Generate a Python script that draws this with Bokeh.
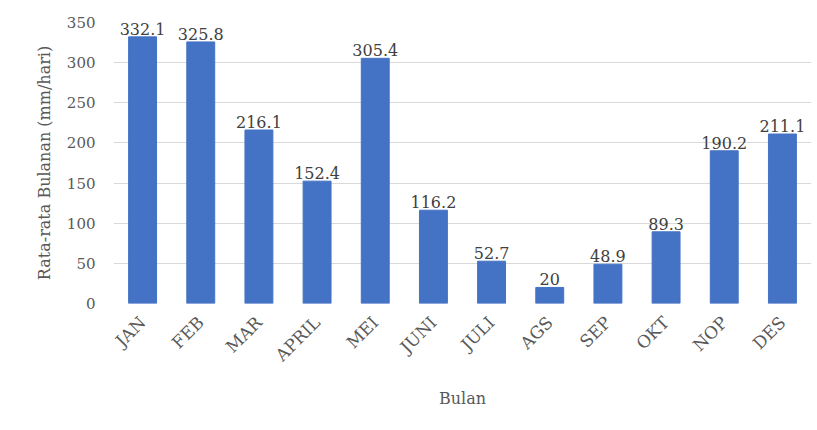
import math
from bokeh.plotting import figure
from bokeh.models import ColumnDataSource, LabelSet, Range1d, FixedTicker
from bokeh.core.properties import value
from bokeh.embed import file_html
from bokeh.resources import INLINE

months = ["JAN", "FEB", "MAR", "APRIL", "MEI", "JUNI", "JULI", "AGS", "SEP", "OKT", "NOP", "DES"]
values = [332.1, 325.8, 216.1, 152.4, 305.4, 116.2, 52.7, 20, 48.9, 89.3, 190.2, 211.1]
labels = ["332.1", "325.8", "216.1", "152.4", "305.4", "116.2", "52.7", "20", "48.9", "89.3", "190.2", "211.1"]
y_ticks = [0, 50, 100, 150, 200, 250, 300, 350]

FONT = "DejaVu Serif"

src = ColumnDataSource(dict(x=months, top=values, label=labels))

p = figure(x_range=months, y_range=Range1d(0, 350), width=817, height=430,
           output_backend="svg", toolbar_location=None,
           min_border_left=113, min_border_right=6, min_border_top=22, min_border_bottom=127)

p.vbar(x="x", top="top", width=0.48, source=src, color="#4472C4")

lbl = LabelSet(x="x", y="top", text="label", source=src, text_align="center",
               text_baseline="bottom", y_offset=2, text_font=value(FONT),
               text_font_size=value("16px"), text_color=value("#404040"))
p.add_layout(lbl)

p.outline_line_color = None
p.xgrid.grid_line_color = None
p.ygrid.grid_line_color = "#d9d9d9"
p.ygrid.grid_line_width = 1
p.yaxis.ticker = FixedTicker(ticks=y_ticks)

for ax in (p.xaxis[0], p.yaxis[0]):
    ax.axis_line_color = None
    ax.major_tick_line_color = None
    ax.minor_tick_line_color = None
    ax.major_label_text_font = FONT
    ax.major_label_text_color = "#595959"
    ax.axis_label_text_font = FONT
    ax.axis_label_text_font_size = "16px"
    ax.axis_label_text_color = "#595959"
    ax.axis_label_text_font_style = "normal"

p.xaxis.major_label_text_font_size = "17px"
p.yaxis.major_label_text_font_size = "15px"
p.xaxis.axis_label = "Bulan"
p.yaxis.axis_label = "Rata-rata Bulanan (mm/hari)"
p.xaxis.major_label_orientation = math.pi / 4
p.xaxis.major_label_standoff = 10
p.yaxis.major_label_standoff = 12
p.xaxis.axis_label_standoff = 14
p.yaxis.axis_label_standoff = 10

open("out.html", "w").write(file_html(p, INLINE))
